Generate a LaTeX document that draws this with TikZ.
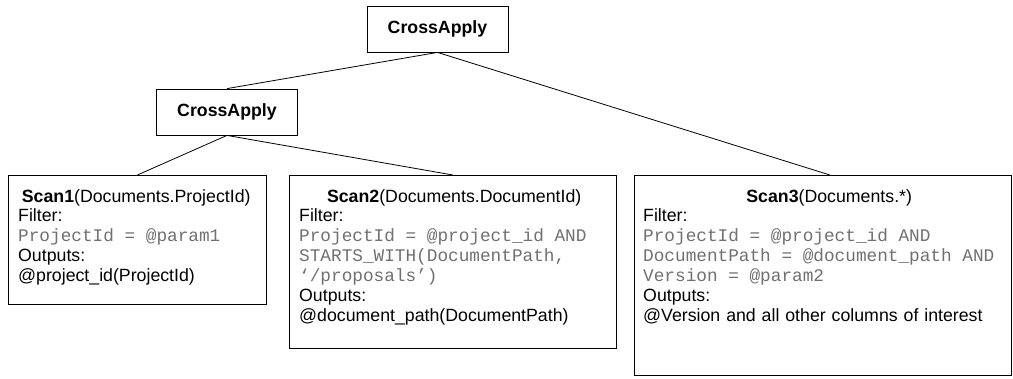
\documentclass[tikz,border=0pt]{standalone}
\usepackage{fontspec}
\setmainfont{Liberation Sans}
\newfontfamily\monof{Liberation Mono}
\newcommand\msp{\hspace*{0.6em}}
\definecolor{codegray}{HTML}{707070}
\begin{document}
\begin{tikzpicture}[x=1bp,y=-1bp,
 box/.style={draw, line width=0.8bp, inner sep=0, anchor=north west},
 opbox/.style={draw, line width=0.8bp, font=\bfseries\fontsize{17.8}{20}\selectfont, inner sep=0, minimum width=141bp, minimum height=46bp},
 txt/.style={anchor=north west, inner sep=0, align=left, font=\fontsize{17.8}{20}\selectfont},
 link/.style={line width=0.8bp}]
\useasboundingbox (0,0) rectangle (1013,378);
\node[opbox] (c1) at (437.5,29) {CrossApply};
\node[opbox] (c2) at (227,112) {CrossApply};
\node[box, minimum width=258bp, minimum height=129bp] (s1) at (8,175) {};
\node[box, minimum width=327bp, minimum height=173bp] (s2) at (289,175) {};
\node[box, minimum width=377bp, minimum height=200bp] (s3) at (634,175) {};
\node[txt, text width=236bp] (t1) at (18,189) {\makebox[236bp]{\textbf{Scan1}(Documents.ProjectId)}\\
Filter:\\
{\monof\color{codegray}ProjectId\msp=\msp@param1}\\
Outputs:\\
@project\_id(ProjectId)};
\node[txt, text width=310bp] (t2) at (299,189) {\makebox[310bp]{\textbf{Scan2}(Documents.DocumentId)}\\
Filter:\\
{\monof\color{codegray}ProjectId\msp=\msp@project\_id\msp AND}\\
{\monof\color{codegray}STARTS\_WITH(DocumentPath,}\\
{\monof\color{codegray}‘/proposals’)}\\
Outputs:\\
@document\_path(DocumentPath)};
\node[txt, text width=372bp] (t3) at (643,189) {\makebox[372bp]{\textbf{Scan3}(Documents.*)}\\
Filter:\\
{\monof\color{codegray}ProjectId\msp=\msp@project\_id\msp AND}\\
{\monof\color{codegray}DocumentPath\msp=\msp@document\_path\msp AND}\\
{\monof\color{codegray}Version\msp=\msp@param2}\\
Outputs:\\
@Version and all other columns of interest};
\draw[link] (c1.south) -- (c2.north);
\draw[link] (c1.south) -- ([xshift=7bp]s3.north);
\draw[link] (c2.south) -- (s1.north);
\draw[link] (c2.south) -- (s2.north);
\end{tikzpicture}
\end{document}
